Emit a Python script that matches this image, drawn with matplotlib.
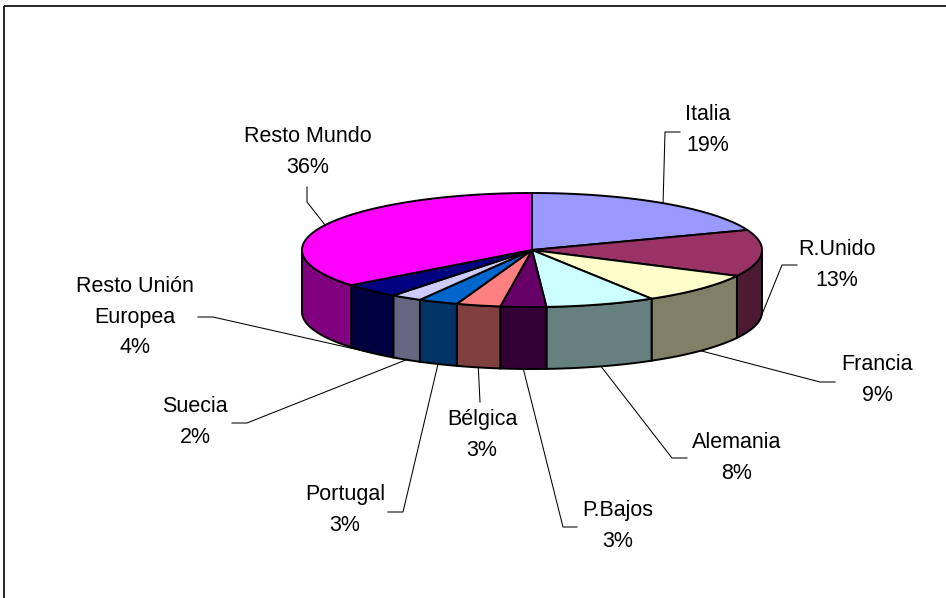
import numpy as np
import matplotlib
matplotlib.use('Agg')
import matplotlib.pyplot as plt
from matplotlib.patches import Polygon, Rectangle
from matplotlib import colors as mcolors

# Datos (porcentaje por destino)
paises = ['Italia', 'R.Unido', 'Francia', 'Alemania', 'P.Bajos', 'Bélgica',
          'Portugal', 'Suecia', 'Resto Unión\nEuropea', 'Resto Mundo']
cuota = [19.3, 13.2, 8.8, 7.7, 3.2, 3.1, 2.8, 2.2, 4.1, 35.6]
colores = ['#9999FF', '#993366', '#FFFFCC', '#CCFFFF', '#660066', '#FF8080',
           '#0066CC', '#CCCCFF', '#000080', '#FF00FF']

# Posición de las etiquetas (centro del texto) y codo de la línea guía
pos_etiqueta = [(708, 130), (837, 265), (877, 380), (737, 458), (618, 526),
                (482, 435), (345, 510), (195, 422), (135, 317), (308, 152)]
codos = [[(665, 132), (680, 132)], [(782, 265), (797, 265)],
         [(820, 382), (835, 382)], [(672, 458), (687, 458)],
         [(563, 527), (577, 527)], [(480, 402)],
         [(403, 512), (388, 512)], [(247, 423), (232, 423)],
         [(213, 317), (198, 317)], [(307, 202), (307, 187)]]

# Geometría del pastel 3D (en píxeles)
cx, cy, a, b, grosor = 532, 250, 230, 57, 62


def borde(t):
    t = np.radians(t)
    return np.column_stack([cx + a * np.cos(t), cy - b * np.sin(t)])


fig = plt.figure(figsize=(9.46, 5.98), dpi=100)
ax = fig.add_axes([0, 0, 1, 1])
ax.set_xlim(0, 946)
ax.set_ylim(598, 0)
ax.axis('off')

total = sum(cuota)
angulos = 90 - np.concatenate([[0], np.cumsum(cuota)]) * 360 / total

for i, color in enumerate(colores):
    t1, t2 = angulos[i], angulos[i + 1]
    lado = np.array(mcolors.to_rgb(color)) * 0.5

    # cara lateral (solo la mitad frontal)
    hi, lo = min(t1, 0), max(t2, -180)
    if hi > lo:
        arco = borde(np.linspace(hi, lo, 80))
        abajo = arco[::-1] + [0, grosor]
        ax.add_patch(Polygon(np.vstack([arco, abajo]), closed=True,
                             facecolor=lado, edgecolor='black', lw=1.4, zorder=1))

    # cara superior
    arco = borde(np.linspace(t1, t2, 120))
    ax.add_patch(Polygon(np.vstack([[cx, cy], arco]), closed=True,
                         facecolor=color, edgecolor='black', lw=1.4, zorder=2))

    # línea guía
    medio = (t1 + t2) / 2
    ancla = borde(medio)[0]
    if np.sin(np.radians(medio)) < 0:
        ancla = ancla + [0, grosor]
    pts = np.vstack([ancla] + codos[i])
    ax.plot(pts[:, 0], pts[:, 1], color='black', lw=0.75, zorder=3)

    pct = round(100 * cuota[i] / total)
    x, y = pos_etiqueta[i]
    ax.text(x, y, f'{paises[i]}\n{pct}%', ha='center', va='center',
            multialignment='center', fontsize=15.5, linespacing=1.6,
            family=['Liberation Sans', 'DejaVu Sans'], zorder=4)

# marco del gráfico
ax.add_patch(Rectangle((3.5, 5.5), 1000, 1000, fill=False,
                       edgecolor='black', lw=1.2, zorder=5))

fig.savefig('out.png', dpi=100)
